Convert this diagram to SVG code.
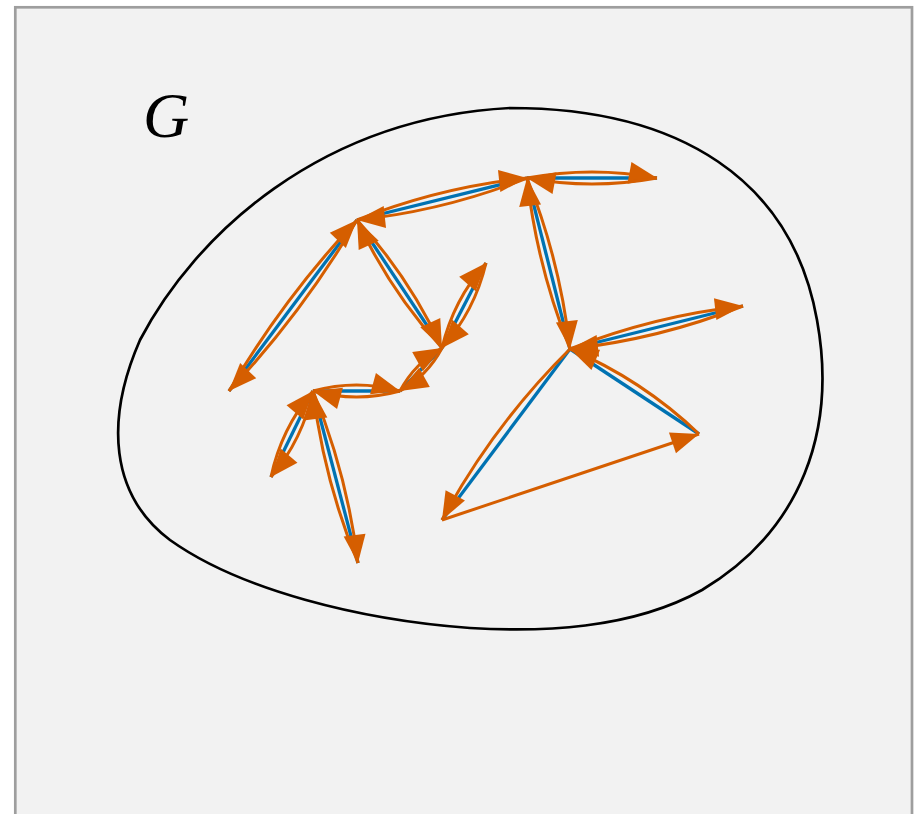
<svg xmlns="http://www.w3.org/2000/svg" width="918" height="814" viewBox="0 0 918 814">
  <defs>
    <marker id="ah" viewBox="-30 -12 31 24" refX="0" refY="0" markerWidth="31" markerHeight="24" markerUnits="userSpaceOnUse" orient="auto">
      <path d="M0,0 L-28,-11 L-28,11 Z" fill="#D55E00"/>
    </marker>
  </defs>
  <style>
    .tree { stroke: #0072B2; stroke-width: 3.3; fill: none; stroke-linecap: butt; }
    .tour { stroke: #D55E00; stroke-width: 3; fill: none; marker-end: url(#ah); }
    .blob { stroke: #000; stroke-width: 2.7; fill: none; }
    .lbl { font-family: "Liberation Serif", "DejaVu Serif", serif; font-style: italic; font-size: 64px; fill: #000; }
  </style>
  <rect x="0" y="0" width="918" height="814" fill="#FFFFFF"/>
  <rect id="frame" x="15.3" y="7.3" width="896.7" height="820" fill="#F2F2F2" stroke="#9E9E9E" stroke-width="2.7"/>

  <g id="region-G">
    <path class="blob" d="M510 108 C680 108 792 180 817 320 C837 430 802 530 702 590 C630 630 540 632 470 628 C360 620 240 590 170 540 C110 495 105 420 140 340 C195 235 320 118 510 108 Z"/>
    <text class="lbl" x="143" y="137">G</text>
  </g>

  <g id="tree-edges">
    <line class="tree" x1="357" y1="220" x2="527" y2="178"/>
    <line class="tree" x1="527" y1="178" x2="657" y2="178"/>
    <line class="tree" x1="357" y1="220" x2="229" y2="391"/>
    <line class="tree" x1="357" y1="220" x2="442" y2="348"/>
    <line class="tree" x1="442" y1="348" x2="486" y2="263"/>
    <line class="tree" x1="442" y1="348" x2="400" y2="391"/>
    <line class="tree" x1="400" y1="391" x2="313" y2="391"/>
    <line class="tree" x1="313" y1="391" x2="271" y2="477"/>
    <line class="tree" x1="313" y1="391" x2="358" y2="563"/>
    <line class="tree" x1="527" y1="178" x2="570" y2="349"/>
    <line class="tree" x1="570" y1="349" x2="743" y2="306"/>
    <line class="tree" x1="570" y1="349" x2="442" y2="520"/>
    <line class="tree" x1="570" y1="349" x2="699" y2="434"/>
  </g>

  <g id="tour-connectors">
    <path class="tour" d="M357 220 Q439.1 187.3 527 178"/>
    <path class="tour" d="M527 178 Q444.9 210.7 357 220"/>
    <path class="tour" d="M527 178 Q592 166 657 178"/>
    <path class="tour" d="M657 178 Q592 190 527 178"/>
    <path class="tour" d="M357 220 Q302.6 312.7 229 391"/>
    <path class="tour" d="M229 391 Q283.4 298.3 357 220"/>
    <path class="tour" d="M357 220 Q409.5 277.4 442 348"/>
    <path class="tour" d="M442 348 Q389.5 290.6 357 220"/>
    <path class="tour" d="M442 348 Q453.3 300 486 263"/>
    <path class="tour" d="M486 263 Q474.7 311 442 348"/>
    <path class="tour" d="M442 348 Q427.4 375.8 400 391"/>
    <path class="tour" d="M400 391 Q414.6 363.2 442 348"/>
    <path class="tour" d="M400 391 Q356.5 403 313 391"/>
    <path class="tour" d="M313 391 Q356.5 379 400 391"/>
    <path class="tour" d="M313 391 Q302.8 439.3 271 477"/>
    <path class="tour" d="M271 477 Q281.2 428.7 313 391"/>
    <path class="tour" d="M313 391 Q347.1 474 358 563"/>
    <path class="tour" d="M358 563 Q323.9 480 313 391"/>
    <path class="tour" d="M527 178 Q560.1 260.6 570 349"/>
    <path class="tour" d="M570 349 Q536.9 266.4 527 178"/>
    <path class="tour" d="M570 349 Q653.6 315.9 743 306"/>
    <path class="tour" d="M743 306 Q659.4 339.1 570 349"/>
    <path class="tour" d="M570 349 Q493.2 424.9 442 520"/>
    <path class="tour" d="M442 520 L699 434"/>
    <path class="tour" d="M699 434 Q642.2 379.8 570 349"/>
  </g>
</svg>
